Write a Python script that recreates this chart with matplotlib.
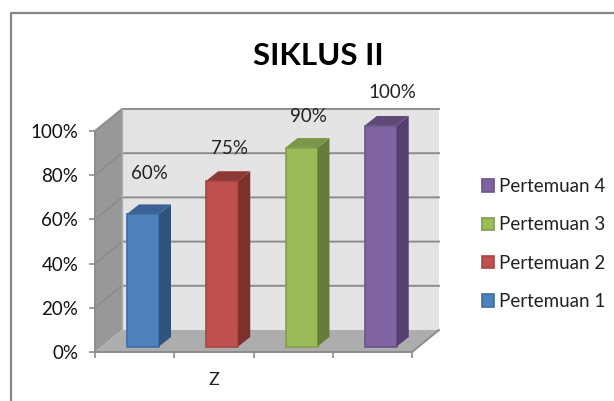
import matplotlib
matplotlib.use("Agg")
from matplotlib import pyplot as plt
from matplotlib.lines import Line2D
from matplotlib.patches import Patch, Polygon

plt.rcParams['font.family'] = ['Lato', 'DejaVu Sans']

series = ["Pertemuan 1", "Pertemuan 2", "Pertemuan 3", "Pertemuan 4"]
values = [60, 75, 90, 100]
labels = ["60%", "75%", "90%", "100%"]
yticks = [0, 20, 40, 60, 80, 100]
ytick_labels = ["0%", "20%", "40%", "60%", "80%", "100%"]

front = ["#4F81BD", "#C0504D", "#9BBB59", "#8064A2"]
edge = ["#3F6DA3", "#A84441", "#83A046", "#6C5389"]
side = ["#30527C", "#7E302E", "#667C3A", "#533F70"]
top = ["#3A6296", "#8E3836", "#7A9646", "#5F4A7A"]

W, H = 614, 401
px_x = 317 / 4      # pixels per category
px_y = 221 / 100    # pixels per percent

fig = plt.figure(figsize=(W / 100, H / 100), dpi=100)
ax = fig.add_axes([95 / W, (H - 352) / H, 317 / W, 221 / H])
ax.set_xlim(0, 4)
ax.set_ylim(0, 100)
ax.patch.set_visible(False)

# depth of the fake 3d box
dx = 27 / px_x
dy = 22 / px_y
grid_c = "#8C8C8C"

ax.add_patch(Polygon([(dx, dy), (4 + dx, dy), (4 + dx, 100 + dy), (dx, 100 + dy)],
                     fc="#E4E4E4", ec="none", zorder=1, clip_on=False))
ax.add_patch(Polygon([(0, 0), (dx, dy), (dx, 100 + dy), (0, 100)],
                     fc="#989898", ec="none", zorder=1, clip_on=False))
ax.add_patch(Polygon([(0, 0), (4, 0), (4 + dx, dy), (dx, dy)],
                     fc="#ADADAD", ec="none", zorder=1, clip_on=False))
for t in yticks:
    if t > 0:
        ax.plot([0, dx, 4 + dx], [t, t + dy, t + dy], color=grid_c, lw=1.4, zorder=2, clip_on=False)
ax.plot([dx, dx], [dy, 100 + dy], color="#B0B0B0", lw=1, zorder=2, clip_on=False)
ax.plot([4, 4 + dx], [0, dy], color=grid_c, lw=1.4, zorder=2, clip_on=False)

# bars
bar_w = 32 / px_x
bar_dx = 12 / px_x
bar_dy = 9.5 / px_y
base = 5.5 / px_y
for i, v in enumerate(values):
    x0 = i + 32 / px_x
    y1 = base + v
    ax.bar(x0, v, width=bar_w, bottom=base, align="edge", color=front[i],
           edgecolor=edge[i], linewidth=1.2, zorder=3, label=series[i], clip_on=False)
    x1 = x0 + bar_w
    ax.add_patch(Polygon([(x1, base), (x1 + bar_dx, base + bar_dy), (x1 + bar_dx, y1 + bar_dy), (x1, y1)],
                         fc=side[i], ec="none", zorder=3, clip_on=False))
    ax.add_patch(Polygon([(x0, y1), (x1, y1), (x1 + bar_dx, y1 + bar_dy), (x0 + bar_dx, y1 + bar_dy)],
                         fc=top[i], ec="none", zorder=3, clip_on=False))

# value labels sit above the bars, not centred on them
label_px = [(149, 174), (229, 148), (308, 116), (392, 92)]
for (px, py), s in zip(label_px, labels):
    fig.text(px / W, (H - py) / H, s, fontsize=13.5, color="#222222", ha="center", va="center")

for s in ["top", "right"]:
    ax.spines[s].set_visible(False)
for s in ["left", "bottom"]:
    ax.spines[s].set_color(grid_c)
    ax.spines[s].set_linewidth(1.4)
    ax.spines[s].set_zorder(2)
ax.set_xticks([0, 1, 2, 3, 4])
ax.set_xticklabels([])
ax.set_yticks(yticks)
ax.set_yticklabels(ytick_labels)
ax.tick_params(axis="both", length=4, width=1.2, color=grid_c)
ax.tick_params(axis="y", labelsize=13.5, labelcolor="#111111", pad=8)

fig.text(214 / W, (H - 380) / H, "Z", fontsize=13, color="#222222", ha="center", va="center")
fig.text(318 / W, (H - 56) / H, "SIKLUS II", fontsize=22.5, fontweight="bold", color="black", ha="center", va="center")

handles = [Patch(fc=front[i], ec=edge[i], lw=1.2, label=series[i]) for i in range(4)][::-1]
fig.legend(handles=handles, loc="center left", bbox_to_anchor=(482 / W, (H - 244) / H),
           frameon=False, fontsize=13.5, labelcolor="#222222", handlelength=0.64, handleheight=0.64,
           handletextpad=0.27, labelspacing=1.14, borderpad=0, borderaxespad=0)

# chart frame, cut off by the crop on the right and bottom
fig.add_artist(Line2D([10.5 / W, 10.5 / W, 1], [0, (H - 13) / H, (H - 13) / H], color="#868686", lw=1.6))

fig.savefig("out.png", dpi=100)
